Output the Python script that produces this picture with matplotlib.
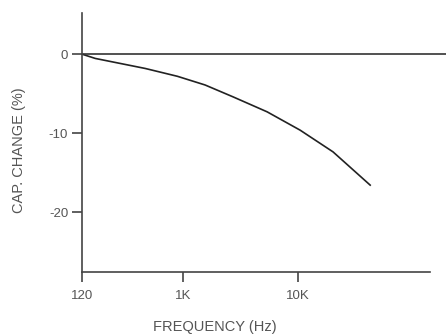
import numpy as np
import matplotlib.pyplot as plt

plt.rcParams['font.family'] = ['Liberation Sans', 'DejaVu Sans']
plt.rcParams['axes.unicode_minus'] = False

# Curve
freq_hz = [132, 172, 468, 890, 1550, 2720, 5370, 10400, 20100, 42300]
cap_change = [0.0, -0.54, -1.81, -2.8, -3.9, -5.41, -7.30, -9.62, -12.37, -16.58]

x_ticks = [132, 1000, 10000]
x_tick_labels = ['120', '1K', '10K']
y_ticks = [0, -10, -20]

fig = plt.figure(figsize=(4.46, 3.36), dpi=100)
ax = fig.add_axes([0.184, 0.19, 0.78, 0.771])

ax.plot(freq_hz, cap_change, color='#222222', lw=1.2)

ax.set_xscale('log')
ax.set_xlim(132, 140000)
ax.set_ylim(-27.6, 5.2)
ax.set_xticks(x_ticks)
ax.set_xticklabels(x_tick_labels)
ax.minorticks_off()
ax.set_yticks(y_ticks)

# zero reference line running past the axis end
ax.plot([0, 1.05], [0, 0], transform=ax.get_yaxis_transform(), color='#333333',
        lw=1.2, clip_on=False)

for s in ['top', 'right']:
    ax.spines[s].set_visible(False)
for s in ['left', 'bottom']:
    ax.spines[s].set_color('#444444')
    ax.spines[s].set_linewidth(1.2)

ax.tick_params(axis='both', direction='out', length=7, width=1.2, color='#444444',
               labelsize=9.5, labelcolor='#555555')
ax.tick_params(axis='x', pad=6)
ax.tick_params(axis='y', pad=3)

fig.text(215 / 446, 1 - 326.5 / 336, 'FREQUENCY (Hz)', ha='center', va='center',
         fontsize=10.5, color='#555555')
fig.text(19.5 / 446, 1 - 150 / 336, 'CAP. CHANGE (%)', ha='center', va='center',
         rotation=90, fontsize=10.5, color='#555555')

fig.savefig('out.png', dpi=100)
